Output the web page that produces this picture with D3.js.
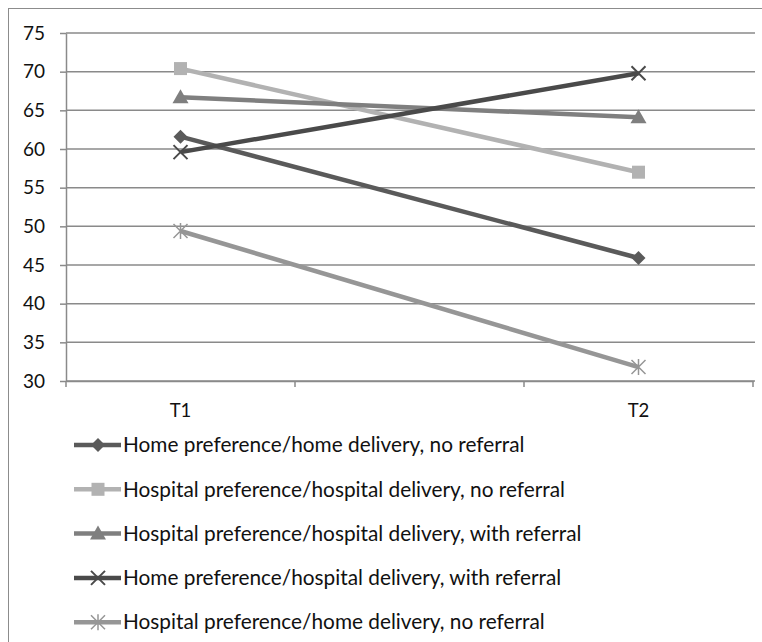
<!DOCTYPE html>
<html>
<head>
<meta charset="utf-8">
<script src="https://cdn.jsdelivr.net/npm/d3@7/dist/d3.min.js"></script>
<style>
  html, body { margin: 0; padding: 0; background: #fff; }
  svg { display: block; }
  text { font-family: Lato, "Open Sans", sans-serif; fill: #111; }
</style>
</head>
<body>
<svg id="chart" width="762" height="642"></svg>
<script>
// Time points on the category axis (the middle slot is an unlabeled spacer)
const categories = ["T1", "", "T2"];
const yTicks = [30, 35, 40, 45, 50, 55, 60, 65, 70, 75];

const seriesNames = [
  "Home preference/home delivery, no referral",
  "Hospital preference/hospital delivery, no referral",
  "Hospital preference/hospital delivery, with referral",
  "Home preference/hospital delivery, with referral",
  "Hospital preference/home delivery, no referral"
];
const homeHomeNoRef      = [61.6, null, 45.9];
const hospHospNoRef      = [70.4, null, 57.0];
const hospHospWithRef    = [66.7, null, 64.1];
const homeHospWithRef    = [59.6, null, 69.8];
const hospHomeNoRef      = [49.4, null, 31.8];
const seriesValues = [homeHomeNoRef, hospHospNoRef, hospHospWithRef, homeHospWithRef, hospHomeNoRef];

const seriesColors = ["#5a5a5a", "#b2b2b2", "#7f7f7f", "#4a4a4a", "#969696"];
const seriesMarkers = ["diamond", "square", "triangle", "cross", "star"];

const svg = d3.select("#chart");

// outer chart frame
svg.append("rect")
  .attr("x", 8.5).attr("y", 8.5)
  .attr("width", 800).attr("height", 700)
  .attr("fill", "none").attr("stroke", "#8c8c8c").attr("stroke-width", 1);

const plot = { left: 66, right: 753, top: 33, bottom: 381 };

const x = d3.scaleBand().domain(categories).range([plot.left, plot.right]);
const y = d3.scaleLinear().domain([30, 75]).range([plot.bottom, plot.top]);

const gridColor = "#8a8a8a";

// horizontal gridlines
svg.append("g")
  .selectAll("line")
  .data(yTicks)
  .join("line")
  .attr("x1", plot.left).attr("x2", plot.right + 2)
  .attr("y1", d => y(d)).attr("y2", d => y(d))
  .attr("stroke", gridColor).attr("stroke-width", 1.5);

// y axis
const yAxis = svg.append("g")
  .attr("transform", `translate(${plot.left},0)`)
  .call(d3.axisLeft(y).tickValues(yTicks).tickSize(6).tickPadding(15).tickSizeOuter(0));
yAxis.select(".domain").attr("stroke", gridColor).attr("stroke-width", 1.5);
yAxis.selectAll(".tick line").attr("stroke", gridColor).attr("stroke-width", 1.5);
yAxis.selectAll(".tick text")
  .attr("font-size", 19).attr("font-family", "Lato, sans-serif").attr("fill", "#111");

// x axis with tick marks at category boundaries
const xAxis = svg.append("g")
  .attr("transform", `translate(0,${plot.bottom})`)
  .call(d3.axisBottom(x).tickSize(0).tickPadding(23));
xAxis.select(".domain").attr("stroke", gridColor).attr("stroke-width", 1.5);
xAxis.selectAll(".tick text")
  .attr("font-size", 18.5).attr("font-family", "Lato, sans-serif").attr("fill", "#111");
const boundaries = categories.map(c => x(c)).concat([x(categories[categories.length - 1]) + x.bandwidth()]);
xAxis.selectAll(".bound")
  .data(boundaries)
  .join("line")
  .attr("class", "bound")
  .attr("x1", d => d).attr("x2", d => d)
  .attr("y1", 0).attr("y2", 6)
  .attr("stroke", gridColor).attr("stroke-width", 1.5);

const cx = c => x(c) + x.bandwidth() / 2;

function drawMarker(g, type, px, py, color) {
  const s = 7;
  if (type === "diamond") {
    g.append("path")
      .attr("d", `M${px},${py - s}L${px + s},${py}L${px},${py + s}L${px - s},${py}Z`)
      .attr("fill", color);
  } else if (type === "square") {
    g.append("rect")
      .attr("x", px - 6.5).attr("y", py - 6.5).attr("width", 13).attr("height", 13)
      .attr("fill", color);
  } else if (type === "triangle") {
    g.append("path")
      .attr("d", `M${px},${py - 8}L${px + 8},${py + 6}L${px - 8},${py + 6}Z`)
      .attr("fill", color);
  } else if (type === "cross") {
    g.append("path")
      .attr("d", `M${px - 7},${py - 7}L${px + 7},${py + 7}M${px - 7},${py + 7}L${px + 7},${py - 7}`)
      .attr("stroke", color).attr("stroke-width", 2).attr("fill", "none");
  } else if (type === "star") {
    g.append("path")
      .attr("d", `M${px - 7},${py - 7}L${px + 7},${py + 7}M${px - 7},${py + 7}L${px + 7},${py - 7}M${px},${py - 8}L${px},${py + 8}`)
      .attr("stroke", color).attr("stroke-width", 1.5).attr("fill", "none");
  }
}

const line = d3.line()
  .defined(d => d.v !== null)
  .x(d => cx(d.c))
  .y(d => y(d.v));

// series lines (gaps are bridged so T1 connects to T2)
const seriesG = svg.append("g");
seriesValues.forEach((vals, i) => {
  const pts = vals.map((v, j) => ({ c: categories[j], v })).filter(d => d.v !== null);
  seriesG.append("path")
    .datum(pts)
    .attr("d", line)
    .attr("fill", "none")
    .attr("stroke", seriesColors[i])
    .attr("stroke-width", 4.5)
    .attr("stroke-linejoin", "round");
  pts.forEach(d => drawMarker(seriesG, seriesMarkers[i], cx(d.c), y(d.v), seriesColors[i]));
});

// legend
const legend = svg.append("g");
const legendY0 = 445, legendStep = 44.3;
seriesNames.forEach((name, i) => {
  const ly = legendY0 + i * legendStep;
  legend.append("line")
    .attr("x1", 74).attr("x2", 121)
    .attr("y1", ly).attr("y2", ly)
    .attr("stroke", seriesColors[i]).attr("stroke-width", 4.5);
  drawMarker(legend, seriesMarkers[i], 98, ly, seriesColors[i]);
  legend.append("text")
    .attr("x", 123).attr("y", ly)
    .attr("dy", "0.35em")
    .attr("font-size", 20.8)
    .text(name);
});
</script>
</body>
</html>
